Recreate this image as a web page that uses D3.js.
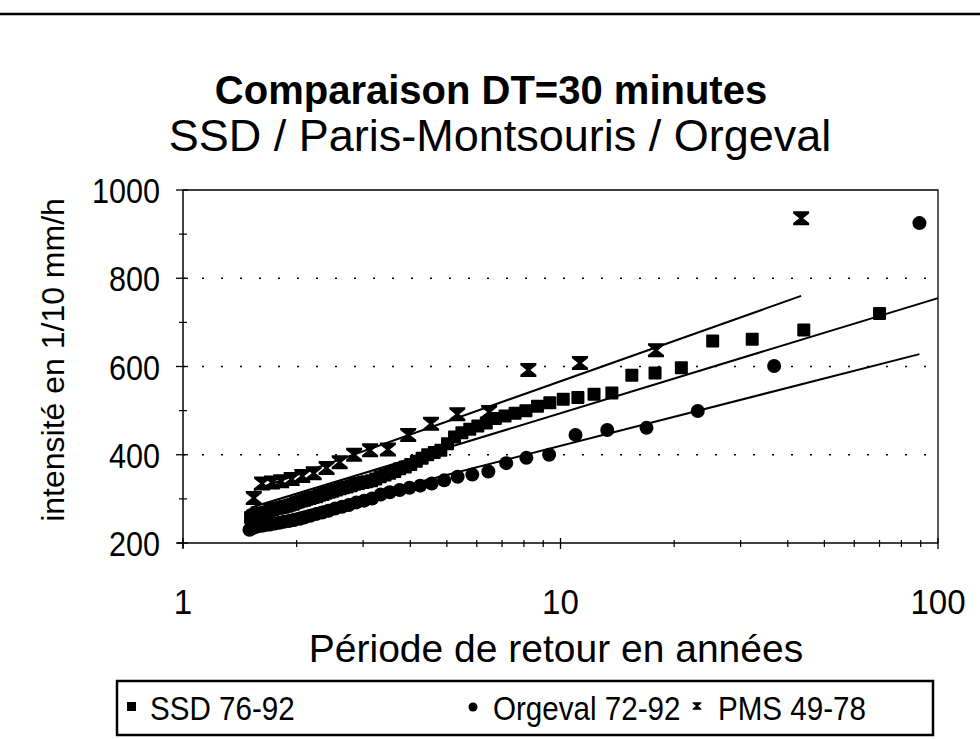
<!DOCTYPE html>
<html>
<head>
<meta charset="utf-8">
<script src="https://cdn.jsdelivr.net/npm/d3@7"></script>
<style>
  body { margin: 0; background: #fff; }
  text { font-family: "Liberation Sans", Arial, sans-serif; fill: #000; }
</style>
</head>
<body>
<div id="chart"></div>
<script>
// return periods (years) and intensities (1/10 mm/h)
const ssdPeriods = [70.0, 44.1, 32.2, 25.3, 20.9, 17.8, 15.45, 13.68, 12.27, 11.12, 10.17, 9.37, 8.69, 8.10,
  7.58, 7.13, 6.72, 6.36, 6.04, 5.75, 5.48, 5.24, 5.02, 4.82, 4.63, 4.45, 4.30, 4.15, 4.01, 3.88, 3.75, 3.64,
  3.53, 3.43, 3.33, 3.24, 3.16, 3.07, 3.00, 2.92, 2.85, 2.79, 2.72, 2.66, 2.61, 2.55, 2.49, 2.44, 2.39, 2.35,
  2.30, 2.26, 2.21, 2.17, 2.13, 2.10, 2.06, 2.02, 1.99, 1.96, 1.92, 1.89, 1.86, 1.84, 1.81, 1.78, 1.75, 1.73,
  1.70, 1.68, 1.66, 1.63, 1.61, 1.59, 1.57, 1.55, 1.53, 1.51];
const ssdValues = [720, 683, 662, 658, 597, 585, 580, 540, 537, 530, 526, 518, 510, 500,
  494, 488, 482, 472, 465, 458, 450, 440, 425, 410, 405, 400, 392, 385, 378, 372, 368, 362,
  358, 354, 350, 345, 341, 339, 337, 335, 333, 330, 327, 325, 323, 320, 317, 315, 313, 310,
  308, 305, 303, 301, 299, 297, 295, 293, 291, 288, 286, 284, 283, 281, 280, 279, 278, 276,
  274, 270, 269, 268, 267, 266, 265, 264, 262, 258];

const orgPeriods = [89.3, 36.8, 23.1, 16.9, 13.3, 10.96, 9.33, 8.12, 7.18, 6.44, 5.84, 5.34, 4.92, 4.56,
  4.25, 3.98, 3.75, 3.53, 3.34, 3.17, 3.02, 2.88, 2.75, 2.64, 2.53, 2.43, 2.34, 2.26, 2.18, 2.10, 2.04,
  1.97, 1.91, 1.85, 1.80, 1.75, 1.70, 1.66, 1.62, 1.57, 1.53, 1.50];
const orgValues = [925, 601, 499, 461, 456, 445, 400, 393, 381, 362, 355, 350, 342, 335,
  330, 325, 320, 315, 310, 301, 296, 292, 286, 282, 278, 273, 269, 266, 262, 258, 255,
  252, 250, 248, 246, 244, 242, 241, 239, 237, 234, 230];

const pmsPeriods = [43.4, 17.9, 11.26, 8.22, 6.47, 5.33, 4.54, 3.95, 3.49, 3.13, 2.84, 2.60, 2.40, 2.22,
  2.07, 1.94, 1.82, 1.72, 1.62, 1.54];
const pmsValues = [936, 637, 608, 592, 497, 492, 470, 445, 412, 410, 400, 383, 370, 358,
  352, 345, 340, 337, 335, 302];

// fitted lines (end points)
const fitSsdPeriods = [1.51, 100];
const fitSsdValues = [280, 755];
const fitOrgPeriods = [1.50, 89.3];
const fitOrgValues = [240, 628];
const fitPmsPeriods = [1.54, 43.4];
const fitPmsValues = [320, 760];

const xTicks = [1, 10, 100];
const xMinor = [2, 3, 4, 5, 6, 7, 8, 9, 20, 30, 40, 50, 60, 70, 80, 90];
const yTicks = [200, 400, 600, 800, 1000];
const yMinor = [300, 500, 700, 900];
const gridValues = [400, 600, 800];

const legendLabels = ["SSD 76-92", "Orgeval 72-92", "PMS 49-78"];

const W = 980, H = 739;
const plot = { left: 183, right: 938, top: 190, bottom: 543 };

const svg = d3.select("#chart").append("svg")
    .attr("width", W).attr("height", H);

const x = d3.scaleLog().domain([1, 100]).range([plot.left, plot.right]);
const y = d3.scaleLinear().domain([200, 1000]).range([plot.bottom, plot.top]);

// sx squeezes the glyphs a bit, the scan uses a narrower face than Arial
function label(g, px, py, str, size, anchor, weight, sx = 1) {
    return g.append("text")
        .attr("transform", `translate(${px},${py}) scale(${sx},1)`)
        .attr("text-anchor", anchor)
        .attr("font-size", size)
        .attr("font-weight", weight)
        .text(str);
}

// top rule
svg.append("line")
    .attr("x1", 0).attr("x2", W).attr("y1", 14).attr("y2", 14)
    .attr("stroke", "#000").attr("stroke-width", 2.5);

// titles
label(svg, 491, 104, "Comparaison DT=30 minutes", 40, "middle", "bold");
label(svg, 500, 151, "SSD / Paris-Montsouris / Orgeval", 45, "middle", "normal");

// gridlines
svg.append("g").selectAll("line").data(gridValues).enter().append("line")
    .attr("x1", plot.left).attr("x2", plot.right)
    .attr("y1", (d) => y(d)).attr("y2", (d) => y(d))
    .attr("stroke", "#000").attr("stroke-width", 1.6)
    .attr("stroke-dasharray", "2,17");

// plot border top + right
svg.append("path")
    .attr("d", `M${plot.left},${plot.top}H${plot.right}V${plot.bottom}`)
    .attr("fill", "none").attr("stroke", "#000").attr("stroke-width", 1.3);

// axes
const xAxis = svg.append("g").attr("transform", `translate(0,${plot.bottom})`);
xAxis.append("line").attr("x1", plot.left - 6).attr("x2", plot.right)
    .attr("stroke", "#000").attr("stroke-width", 1.5);
xAxis.selectAll("line.maj").data(xTicks).enter().append("line")
    .attr("x1", (d) => x(d)).attr("x2", (d) => x(d)).attr("y1", -5).attr("y2", 6)
    .attr("stroke", "#000").attr("stroke-width", 1.3);
xAxis.selectAll("line.min").data(xMinor).enter().append("line")
    .attr("x1", (d) => x(d)).attr("x2", (d) => x(d)).attr("y1", -3).attr("y2", 4)
    .attr("stroke", "#000").attr("stroke-width", 1.2);
xTicks.forEach((t) => label(svg, x(t), 614, String(t), 36, "middle", "normal", 0.92));

const yAxis = svg.append("g").attr("transform", `translate(${plot.left},0)`);
yAxis.append("line").attr("y1", plot.top).attr("y2", plot.bottom + 5)
    .attr("stroke", "#000").attr("stroke-width", 1.5);
yAxis.selectAll("line.maj").data(yTicks).enter().append("line")
    .attr("y1", (d) => y(d)).attr("y2", (d) => y(d)).attr("x1", -7).attr("x2", 5)
    .attr("stroke", "#000").attr("stroke-width", 1.3);
yAxis.selectAll("line.min").data(yMinor).enter().append("line")
    .attr("y1", (d) => y(d)).attr("y2", (d) => y(d)).attr("x1", -4).attr("x2", 4)
    .attr("stroke", "#000").attr("stroke-width", 1.2);
yTicks.forEach((t) => label(svg, 160, y(t) + 13, String(t), 36, "end", "normal", 0.85));

// axis titles
label(svg, 556, 662, "Période de retour en années", 39, "middle", "normal");
svg.append("text")
    .attr("transform", "translate(64,360) rotate(-90)")
    .attr("text-anchor", "middle").attr("font-size", 32)
    .text("intensité en 1/10 mm/h");

// fitted lines
const line = d3.line().x((d) => x(d[0])).y((d) => y(d[1]));
const fits = [
    d3.zip(fitPmsPeriods, fitPmsValues),
    d3.zip(fitSsdPeriods, fitSsdValues),
    d3.zip(fitOrgPeriods, fitOrgValues),
];
svg.append("g").selectAll("path").data(fits).enter().append("path")
    .attr("d", line).attr("fill", "none").attr("stroke", "#000").attr("stroke-width", 2);

// markers
const hourglass = (s) => {
    const w = 8 * s, h = 7 * s, b = 2.2 * s, n = 2 * s;
    return `M${-w},${-h}H${w}V${-h + b}L${n},0L${w},${h - b}V${h}H${-w}V${h - b}L${-n},0L${-w},${-h + b}Z`;
};

svg.append("g").selectAll("rect").data(d3.zip(ssdPeriods, ssdValues)).enter().append("rect")
    .attr("x", (d) => x(d[0]) - 6.5).attr("y", (d) => y(d[1]) - 6.5)
    .attr("width", 13).attr("height", 13).attr("rx", 1).attr("fill", "#000");

svg.append("g").selectAll("circle").data(d3.zip(orgPeriods, orgValues)).enter().append("circle")
    .attr("cx", (d) => x(d[0])).attr("cy", (d) => y(d[1])).attr("r", 7)
    .attr("fill", "#000");

svg.append("g").selectAll("path").data(d3.zip(pmsPeriods, pmsValues)).enter().append("path")
    .attr("transform", (d) => `translate(${x(d[0])},${y(d[1])})`)
    .attr("d", hourglass(1)).attr("fill", "#000");

// legend
const leg = svg.append("g");
leg.append("rect").attr("x", 117).attr("y", 681).attr("width", 816).attr("height", 54)
    .attr("fill", "#fff").attr("stroke", "#000").attr("stroke-width", 2.5);
leg.append("rect").attr("x", 127).attr("y", 702).attr("width", 9).attr("height", 9).attr("fill", "#000");
label(leg, 150, 720, legendLabels[0], 34, "start", "normal", 0.87);
leg.append("circle").attr("cx", 473).attr("cy", 707).attr("r", 4.5).attr("fill", "#000");
label(leg, 493, 720, legendLabels[1], 34, "start", "normal", 0.87);
leg.append("path").attr("transform", "translate(697,706)").attr("d", hourglass(0.55)).attr("fill", "#000");
label(leg, 718, 720, legendLabels[2], 34, "start", "normal", 0.87);
</script>
</body>
</html>
